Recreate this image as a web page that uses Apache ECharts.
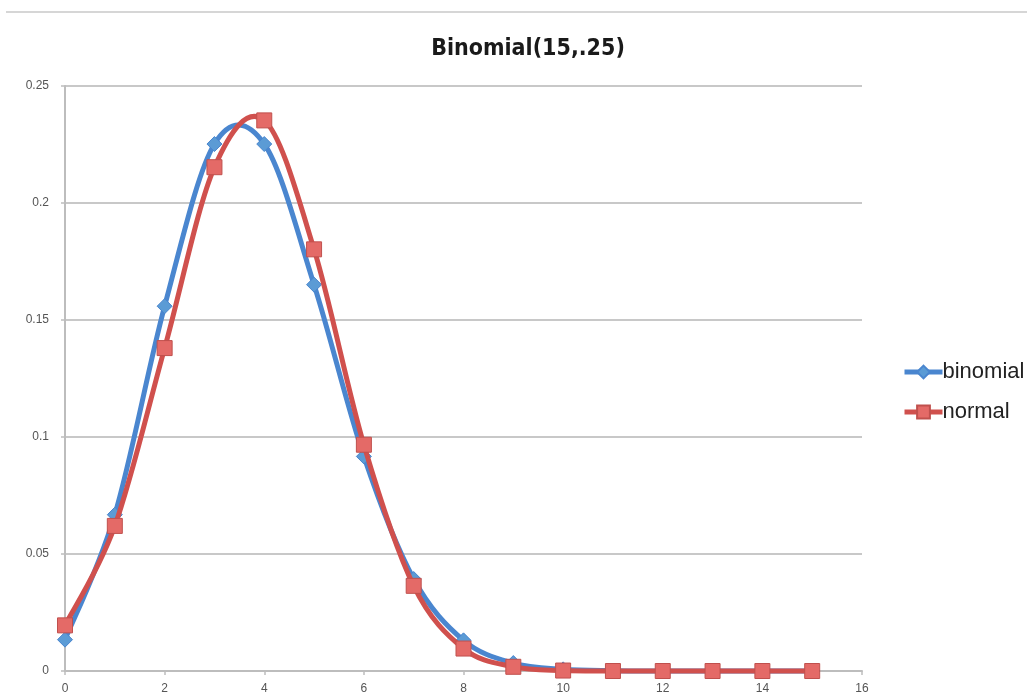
<!DOCTYPE html>
<html>
<head>
<meta charset="utf-8">
<script src="https://cdn.jsdelivr.net/npm/echarts@6/dist/echarts.min.js"></script>
<style>
  html, body { margin: 0; padding: 0; background: #ffffff; }
  #chart { width: 1027px; height: 697px; }
</style>
</head>
<body>
<div id="chart"></div>
<script>
// Successes k = 0..15
const kValues = [0, 1, 2, 3, 4, 5, 6, 7, 8, 9, 10, 11, 12, 13, 14, 15];

// Binomial(15, .25) probabilities
const binomial = [0.0134, 0.0668, 0.1559, 0.2252, 0.2252, 0.1651, 0.0917, 0.0393,
                  0.0131, 0.0034, 0.0007, 0.0001, 0.0000, 0.0000, 0.0000, 0.0000];

// Normal approximation density at each k
const normal = [0.0195, 0.0620, 0.1380, 0.2153, 0.2353, 0.1802, 0.0967, 0.0364,
                0.0096, 0.0018, 0.0002, 0.0000, 0.0000, 0.0000, 0.0000, 0.0000];

const yTicks = [0, 0.05, 0.1, 0.15, 0.2, 0.25];
const xTicks = [0, 2, 4, 6, 8, 10, 12, 14, 16];

const BLUE = '#4a86cf';
const BLUE_FILL = '#5b9bd5';
const RED = '#d0504d';
const RED_FILL = '#e46a67';

const pairs = (xs, ys) => xs.map((x, i) => [x, ys[i]]);

// Catmull-Rom style smooth path through the points, projected by the chart's axes
function smoothCurve(xs, ys, color) {
  return function (params, api) {
    if (params.dataIndex !== 0) return null;
    const p = xs.map((x, i) => api.coord([x, ys[i]]));
    let d = 'M' + p[0][0] + ' ' + p[0][1];
    for (let i = 0; i < p.length - 1; i++) {
      const p0 = p[Math.max(i - 1, 0)];
      const p1 = p[i];
      const p2 = p[i + 1];
      const p3 = p[Math.min(i + 2, p.length - 1)];
      const c1x = p1[0] + (p2[0] - p0[0]) / 6;
      const c1y = p1[1] + (p2[1] - p0[1]) / 6;
      const c2x = p2[0] - (p3[0] - p1[0]) / 6;
      const c2y = p2[1] - (p3[1] - p1[1]) / 6;
      d += ' C' + c1x + ' ' + c1y + ' ' + c2x + ' ' + c2y + ' ' + p2[0] + ' ' + p2[1];
    }
    return {
      type: 'path',
      shape: { pathData: d },
      style: { fill: null, stroke: color, lineWidth: 5, lineJoin: 'round', lineCap: 'round' },
      silent: true
    };
  };
}

const chart = echarts.init(document.getElementById('chart'), null, { renderer: 'canvas' });

const axisGray = '#bdbdbd';
const labelStyle = { color: '#555555', fontSize: 12, fontFamily: 'Liberation Sans, Arial, sans-serif' };

chart.setOption({
  backgroundColor: '#ffffff',
  animation: false,
  title: {
    text: 'Binomial(15,.25)',
    left: 523,
    top: 33,
    textAlign: 'center',
    textStyle: { fontFamily: 'DejaVu Sans Condensed, Liberation Sans, sans-serif', fontWeight: 'bold', fontSize: 23, color: '#1a1a1a' }
  },
  graphic: [{
    type: 'line',
    shape: { x1: 6, y1: 12, x2: 1027, y2: 12 },
    style: { stroke: '#c8c8c8', lineWidth: 1.5 }
  }],
  legend: {
    orient: 'vertical',
    left: 897,
    top: 356,
    itemGap: 18,
    itemWidth: 38,
    itemHeight: 16,
    textStyle: { fontSize: 22, color: '#222222', fontFamily: 'Liberation Sans, Arial, sans-serif', padding: [0, 0, 0, -5] },
    data: [
      { name: 'binomial', lineStyle: { color: BLUE, width: 5, opacity: 1 } },
      { name: 'normal', lineStyle: { color: RED, width: 5, opacity: 1 } }
    ]
  },
  grid: { left: 65, right: 165, top: 86, bottom: 26 },
  xAxis: {
    type: 'value',
    min: 0, max: 16, interval: 2,
    axisLine: { lineStyle: { color: axisGray, width: 2 } },
    axisTick: { show: true, inside: false, length: 4, lineStyle: { color: axisGray, width: 1.5 } },
    axisLabel: Object.assign({ margin: 12, formatter: v => xTicks.includes(v) ? String(v) : '' }, labelStyle),
    splitLine: { show: false }
  },
  yAxis: {
    type: 'value',
    min: 0, max: 0.25, interval: 0.05,
    axisLine: { show: true, lineStyle: { color: axisGray, width: 2 } },
    axisTick: { show: true, inside: false, length: 4, lineStyle: { color: axisGray, width: 1.5 } },
    axisLabel: Object.assign({ margin: 16, formatter: v => {
      const t = yTicks.find(y => Math.abs(y - v) < 1e-9);
      return t === undefined ? '' : String(t);
    } }, labelStyle),
    splitLine: { show: true, lineStyle: { color: '#c8c8c8', width: 2 } }
  },
  series: [
    {
      name: 'binomial curve',
      type: 'custom',
      renderItem: smoothCurve(kValues, binomial, BLUE),
      data: [0],
      z: 2
    },
    {
      name: 'binomial',
      type: 'line',
      data: pairs(kValues, binomial),
      symbol: 'diamond',
      symbolSize: 15,
      lineStyle: { color: BLUE, width: 5, opacity: 0 },
      itemStyle: { color: BLUE_FILL, borderColor: BLUE, borderWidth: 1 },
      z: 3
    },
    {
      name: 'normal curve',
      type: 'custom',
      renderItem: smoothCurve(kValues, normal, RED),
      data: [0],
      z: 4
    },
    {
      name: 'normal',
      type: 'line',
      data: pairs(kValues, normal),
      symbol: 'rect',
      symbolSize: 15,
      lineStyle: { color: RED, width: 5, opacity: 0 },
      itemStyle: { color: RED_FILL, borderColor: '#c0504d', borderWidth: 1 },
      z: 5
    }
  ]
});
</script>
</body>
</html>
